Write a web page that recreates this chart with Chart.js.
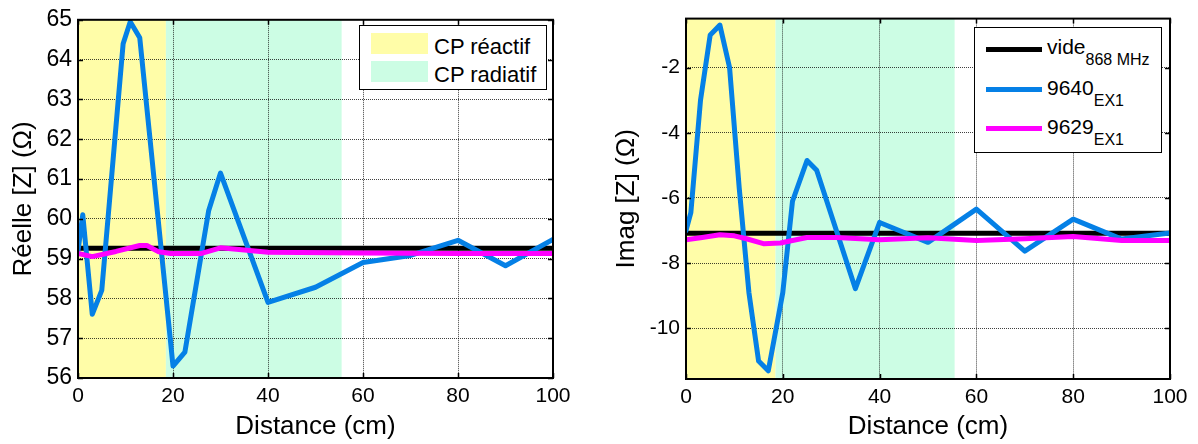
<!DOCTYPE html>
<html lang="fr">
<head>
<meta charset="utf-8">
<title>Impédance en fonction de la distance</title>
<script src="https://cdn.jsdelivr.net/npm/chart.js@4.4.1/dist/chart.umd.min.js"></script>
<style>
    html, body { margin: 0; padding: 0; background: #fff; }
    #page { position: relative; width: 1198px; height: 444px; overflow: hidden; font-family: 'Liberation Sans', Arial, sans-serif; color: #000; }
    canvas { position: absolute; top: 0; }
    #chartReelle { left: 0; }
    #chartImag { left: 600px; }
    .legende { position: absolute; background: #fff; border: 1px solid #000; box-sizing: border-box; }
    .legende span { position: absolute; white-space: nowrap; }
    .pastille { position: absolute; left: 11px; width: 57px; height: 21px; }
    .trait { position: absolute; left: 11px; width: 56px; height: 5px; }
    .txt22 { font-size: 22px; line-height: 22px; left: 74px; }
    .txt21 { font-size: 21px; line-height: 21px; left: 72px; }
    .txt21 sub { font-size: 16px; vertical-align: -11px; line-height: 0; }
</style>
</head>
<body>
<div id="page">
    <canvas id="chartReelle" width="600" height="444"></canvas>
    <canvas id="chartImag" width="598" height="444"></canvas>

    <div class="legende" style="left:359px; top:25px; width:188px; height:65px;">
        <div class="pastille" style="top:7px; background:#fffda8;"></div>
        <span class="txt22" style="top:10px;">CP réactif</span>
        <div class="pastille" style="top:35px; background:#ccfde4;"></div>
        <span class="txt22" style="top:38px;">CP radiatif</span>
    </div>

    <div class="legende" style="left:974px; top:27px; width:188px; height:126px;">
        <div class="trait" style="top:19px; background:#000;"></div>
        <span class="txt21" style="top:8px;">vide<sub>868 MHz</sub></span>
        <div class="trait" style="top:59px; background:#0580e6;"></div>
        <span class="txt21" style="top:49px;">9640<sub>EX1</sub></span>
        <div class="trait" style="top:98px; background:#ff00ff;"></div>
        <span class="txt21" style="top:88px;">9629<sub>EX1</sub></span>
    </div>
</div>

<script>
// Graduations
const xTicks = [0, 20, 40, 60, 80, 100];
const yTicksReel = [56, 57, 58, 59, 60, 61, 62, 63, 64, 65];
const yTicksImag = [-10, -8, -6, -4, -2];

// Zones champ proche (cm)
const zoneReactif = [0, 18.5];
const zoneRadiatif = [18.5, 55.5];

// Partie réelle
const distVide = [0, 100];
const reelVide = [59.26, 59.26];
const distReel9640 = [0, 1, 3, 5, 9.5, 11, 13, 20, 22.5, 27.5, 30, 40, 50, 60, 70, 80, 90, 100];
const reel9640 = [59.2, 60.1, 57.6, 58.2, 64.4, 64.95, 64.55, 56.3, 56.65, 60.2, 61.15, 57.9, 58.28, 58.9, 59.08, 59.46, 58.82, 59.48];
const distReel9629 = [0, 3, 8, 13, 14.5, 17, 19.5, 26, 30, 40, 60, 80, 100];
const reel9629 = [59.13, 59.05, 59.18, 59.33, 59.33, 59.17, 59.13, 59.13, 59.27, 59.16, 59.14, 59.13, 59.13];

// Partie imaginaire
const imagVide = [-7.08, -7.08];
const distImag9640 = [0, 1, 3, 5, 7, 9, 11, 13, 15, 17, 20, 22, 25, 27, 35, 40, 50, 60, 70, 80, 90, 100];
const imag9640 = [-7.0, -6.45, -3.0, -1.0, -0.7, -2.0, -5.7, -8.9, -11.0, -11.3, -8.9, -6.1, -4.85, -5.15, -8.78, -6.75, -7.36, -6.34, -7.63, -6.65, -7.26, -7.07];
const distImag9629 = [0, 3, 7, 10, 12.5, 16, 19.5, 25, 31, 40, 50, 60, 70, 80, 90, 100];
const imag9629 = [-7.28, -7.22, -7.13, -7.16, -7.25, -7.4, -7.38, -7.21, -7.21, -7.28, -7.22, -7.3, -7.25, -7.18, -7.3, -7.3];

Chart.defaults.font.family = "'Liberation Sans', Arial, sans-serif";
Chart.defaults.color = '#000';

// Zones colorées derrière la grille, cadre et graduations intérieures façon Matlab
const cadrePlugin = {
    id: 'cadre',
    beforeDraw(chart, args, opts) {
        const { ctx, chartArea: a, scales: { x } } = chart;
        ctx.save();
        opts.zones.forEach(z => {
            const x0 = x.getPixelForValue(z.limites[0]);
            const x1 = x.getPixelForValue(z.limites[1]);
            ctx.fillStyle = z.couleur;
            ctx.fillRect(x0, a.top, x1 - x0, a.bottom - a.top);
        });
        ctx.restore();
    },
    afterDraw(chart) {
        const { ctx, chartArea: a, scales: { x, y } } = chart;
        ctx.save();
        ctx.strokeStyle = '#000';
        ctx.lineWidth = 1.5;
        ctx.beginPath();
        x.ticks.forEach(t => {
            const px = Math.round(x.getPixelForValue(t.value)) + 0.5;
            ctx.moveTo(px, a.bottom); ctx.lineTo(px, a.bottom - 5);
            ctx.moveTo(px, a.top); ctx.lineTo(px, a.top + 5);
        });
        y.ticks.forEach(t => {
            const py = Math.round(y.getPixelForValue(t.value)) + 0.5;
            ctx.moveTo(a.left, py); ctx.lineTo(a.left + 5, py);
            ctx.moveTo(a.right, py); ctx.lineTo(a.right - 5, py);
        });
        ctx.stroke();
        ctx.lineWidth = 2;
        ctx.strokeRect(a.left, a.top, a.right - a.left, a.bottom - a.top);
        ctx.restore();
    }
};

function serie(label, xs, ys, couleur, ordre) {
    return {
        label: label,
        data: xs.map((v, i) => ({ x: v, y: ys[i] })),
        borderColor: couleur,
        backgroundColor: couleur,
        borderWidth: 5,
        borderJoinStyle: 'round',
        borderCapStyle: 'round',
        pointRadius: 0,
        tension: 0,
        fill: false,
        order: ordre
    };
}

function tracer(id, cfg) {
    return new Chart(document.getElementById(id), {
        type: 'line',
        data: { datasets: cfg.series },
        options: {
            responsive: false,
            animation: false,
            layout: { padding: cfg.padding },
            plugins: {
                legend: { display: false },
                tooltip: { enabled: false },
                cadre: {
                    zones: [
                        { limites: zoneReactif, couleur: '#fffda8' },
                        { limites: zoneRadiatif, couleur: '#ccfde4' }
                    ]
                }
            },
            scales: {
                x: {
                    type: 'linear',
                    min: 0,
                    max: 100,
                    afterBuildTicks: ax => { ax.ticks = xTicks.map(v => ({ value: v })); },
                    afterFit: s => { s.height = cfg.hauteurX; },
                    grid: { color: 'rgba(0,0,0,0.75)', lineWidth: 1, drawTicks: false },
                    border: { display: false, dash: [1, 1] },
                    ticks: { font: { size: 21 }, padding: 6, maxRotation: 0, callback: v => String(v) },
                    title: { display: true, text: 'Distance (cm)', font: { size: 26 }, padding: { top: 0, bottom: 2 } }
                },
                y: {
                    min: cfg.yMin,
                    max: cfg.yMax,
                    afterBuildTicks: ax => { ax.ticks = cfg.yTicks.map(v => ({ value: v })); },
                    afterFit: s => { s.width = cfg.largeurY; },
                    grid: { color: 'rgba(0,0,0,0.75)', lineWidth: 1, drawTicks: false },
                    border: { display: false, dash: [1, 1] },
                    ticks: { font: { size: cfg.tailleYTicks }, padding: 6, callback: v => String(v) },
                    title: { display: true, text: cfg.titreY, font: { size: 26 }, padding: { top: cfg.padTitreY, bottom: 0 } }
                }
            }
        },
        plugins: [cadrePlugin]
    });
}

tracer('chartReelle', {
    series: [
        serie('vide 868 MHz', distVide, reelVide, '#000000', 3),
        serie('9640 EX1', distReel9640, reel9640, '#0580e6', 2),
        serie('9629 EX1', distReel9629, reel9629, '#ff00ff', 1)
    ],
    padding: { top: 15, right: 47, left: 0, bottom: 0 },
    hauteurX: 66,
    largeurY: 78,
    yMin: 56,
    yMax: 65,
    yTicks: yTicksReel,
    tailleYTicks: 23,
    titreY: 'Réelle [Z] (Ω)',
    padTitreY: 8
});

tracer('chartImag', {
    series: [
        serie('vide 868 MHz', distVide, imagVide, '#000000', 3),
        serie('9640 EX1', distImag9640, imag9640, '#0580e6', 2),
        serie('9629 EX1', distImag9629, imag9629, '#ff00ff', 1)
    ],
    padding: { top: 16, right: 28, left: 0, bottom: 0 },
    hauteurX: 65,
    largeurY: 86,
    yMin: -11.55,
    yMax: -0.5,
    yTicks: yTicksImag,
    tailleYTicks: 21,
    titreY: 'Imag [Z] (Ω)',
    padTitreY: 11
});
</script>
</body>
</html>
